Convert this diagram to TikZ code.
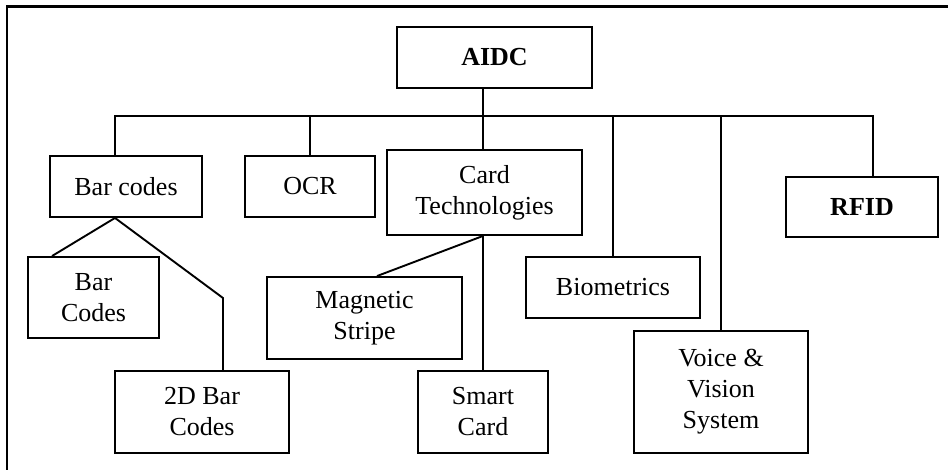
\documentclass[tikz,border=0pt]{standalone}
\usepackage{fontspec}
\setmainfont{Liberation Serif}
\begin{document}
\begin{tikzpicture}[x=1pt,y=-1pt,
  box/.style={draw,line width=1.9pt,rectangle,inner sep=0pt,align=center,
    font=\fontsize{26}{31}\selectfont},
  link/.style={line width=1.9pt},
  frame/.style={line width=2.4pt}]
\useasboundingbox (0,0) rectangle (948,470);
% outer frame (top and left edges)
\draw[frame] (7,471) -- (7,6.5) -- (949,6.5);

% boxes
\node[box,minimum width=195pt,minimum height=61pt] (aidc) at (494.5,57.5) {\textbf{AIDC}};
\node[box,minimum width=152pt,minimum height=61pt] (barcodes) at (126,186.5) {Bar codes};
\node[box,minimum width=130pt,minimum height=61pt] (ocr) at (310,186.5) {OCR};
\node[box,minimum width=195pt,minimum height=85pt] (cardtech) at (484.5,192.5) {Card\\Technologies};
\node[box,minimum width=174pt,minimum height=61pt] (biometrics) at (613,287.5) {Biometrics};
\node[box,minimum width=174pt,minimum height=122pt] (voice) at (721,392) {Voice \&\\Vision\\System};
\node[box,minimum width=152pt,minimum height=60pt] (rfid) at (862,207) {\textbf{RFID}};
\node[box,minimum width=131pt,minimum height=81pt] (barcodes2) at (93.5,297.5) {Bar\\Codes};
\node[box,minimum width=174pt,minimum height=82pt] (twod) at (202,412) {2D Bar\\Codes};
\node[box,minimum width=195pt,minimum height=82pt] (magstripe) at (364.5,318) {Magnetic\\Stripe};
\node[box,minimum width=130pt,minimum height=82pt] (smartcard) at (483,412) {Smart\\Card};

% bus under AIDC
\coordinate (bus) at (483,116);
\coordinate (bcin) at ([xshift=-11pt]barcodes.north);
\coordinate (rfidin) at ([xshift=11pt]rfid.north);
\draw[link] (aidc.south -| bus) -- (bus);
\draw[link] (bcin) |- (bus) -| (rfidin);
\draw[link] (ocr.north) -- (ocr.north |- bus);
\draw[link] (bus) -- (bus |- cardtech.north);
\draw[link] (biometrics.north) -- (biometrics.north |- bus);
\draw[link] (voice.north) -- (voice.north |- bus);

% bar code children
\coordinate (bcout) at ([xshift=-11pt]barcodes.south);
\coordinate (twodin) at ([xshift=21pt]twod.north);
\coordinate (bend) at (twodin |- 0,298);
\draw[link] (bcout) -- ([xshift=-41.5pt]barcodes2.north);
\draw[link] (bcout) -- (bend) -- (twodin);

% card technology children
\coordinate (ctout) at (cardtech.south -| bus);
\draw[link] (ctout) -- ([xshift=12.5pt]magstripe.north);
\draw[link] (ctout) -- (smartcard.north);
\end{tikzpicture}
\end{document}
